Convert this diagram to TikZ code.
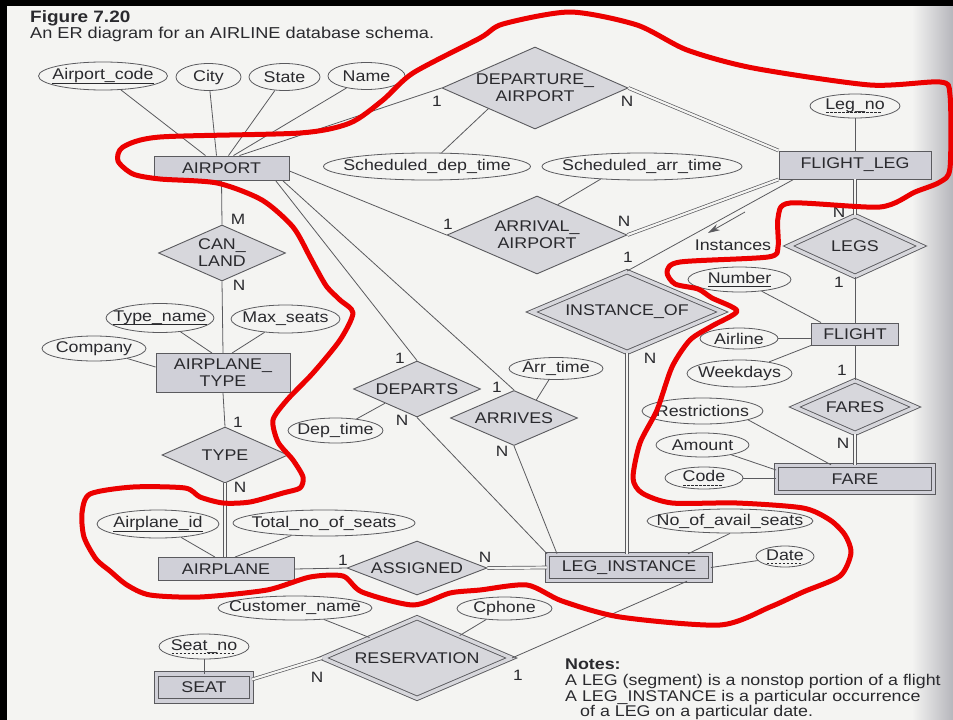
\documentclass[tikz,border=0pt]{standalone}
\usepackage{fontspec}
\setmainfont{Liberation Sans}[FakeStretch=1.15]
\usetikzlibrary{shapes.geometric,calc,arrows.meta}

\definecolor{paper}{RGB}{244,244,242}
\definecolor{ink}{RGB}{42,42,46}
\definecolor{ln}{RGB}{90,90,94}
\definecolor{efill}{RGB}{208,208,216}
\definecolor{rfill}{RGB}{215,215,220}
\definecolor{curl}{RGB}{182,182,188}
\definecolor{pen}{RGB}{236,0,0}

% key underlines: solid for keys, dashed for partial keys
\newcommand\solidkey[1]{\leavevmode\setbox0=\hbox{#1}\hbox{\rlap{\raisebox{-3.5pt}{\vrule width \wd0 height 0.7pt depth 0pt}}\box0}}
\newcommand\dashkey[1]{\leavevmode\setbox0=\hbox{#1}\hbox{\rlap{\raisebox{-3.5pt}{\hbox to \wd0{\leaders\hbox to 4pt{\hss\vrule width 2.5pt height 0.7pt depth 0pt\hss}\hfill}}}\box0}}

\begin{document}
\begin{tikzpicture}[x=1pt,y=-1pt,
  lbl/.style={font=\fontsize{15.5}{17}\selectfont, text=ink, align=center, inner sep=0pt},
  say/.style={label={[lbl]center:#1}},
  ent/.style={rectangle, draw=ln, line width=0.9pt, fill=efill, inner sep=0pt},
  weakent/.style={ent, double=efill, double distance=3.4pt},
  rel/.style={diamond, draw=ln, line width=0.9pt, fill=rfill, inner sep=0pt},
  idrel/.style={rel, double=rfill, double distance=3.4pt},
  attr/.style={ellipse, draw=ln, line width=0.8pt, fill=paper, inner sep=0pt},
  conn/.style={draw=ln, line width=0.8pt},
  total/.style={draw=ln, line width=0.7pt, double=paper, double distance=2.2pt},
  card/.style={font=\fontsize{15}{17}\selectfont, text=ink, inner sep=0pt},
  note/.style={font=\fontsize{15.5}{17}\selectfont, text=ink, inner sep=0pt, anchor=base west}]

\useasboundingbox (0,0) rectangle (953,720);
\clip (0,0) rectangle (953,720);

% page, curled right edge and dark frame
\fill[paper] (0,0) rectangle (953,720);
\shade[left color=paper, right color=curl] (912,0) rectangle (953,720);
\fill[black] (0,0) rectangle (953,5.5);
\fill[black] (0,0) rectangle (7,720);

% caption
\node[anchor=base west, inner sep=0pt, text=ink, font=\fontsize{16.5}{18}\selectfont\bfseries] (fig) at (30,22) {Figure 7.20};
\node[anchor=base west, inner sep=0pt, text=ink, font=\fontsize{15.8}{18}\selectfont] (figcap) at (30,38) {An ER diagram for an AIRLINE database schema.};

% ---------------- entities ----------------
\node[ent, minimum width=135, minimum height=24, say=AIRPORT] (airport) at (221.5,168) {};
\node[ent, minimum width=152, minimum height=28, say=FLIGHT\_LEG] (flightleg) at (855,165) {};
\node[ent, minimum width=134, minimum height=39, say={AIRPLANE\_\\TYPE}] (airplanetype) at (223,373) {};
\node[ent, minimum width=136, minimum height=23, say=AIRPLANE] (airplane) at (226,569) {};
\node[ent, minimum width=87, minimum height=22, say=FLIGHT] (flight) at (855,334) {};
\node[weakent, minimum width=95, minimum height=27, say=SEAT] (seat) at (204,687.5) {};
\node[weakent, minimum width=163, minimum height=26.5, say=LEG\_INSTANCE] (leginst) at (629,567.5) {};
\node[weakent, minimum width=157, minimum height=27.5, say=FARE] (fare) at (855,479) {};

% ---------------- relationships ----------------
\node[rel, minimum width=186, minimum height=82, say={DEPARTURE\_\\AIRPORT}] (depap) at (535,88) {};
\node[rel, minimum width=180, minimum height=78, say={ARRIVAL\_\\AIRPORT}] (arrap) at (537,235) {};
\node[rel, minimum width=127, minimum height=56, say={CAN\_\\LAND}] (canland) at (222,253) {};
\node[rel, minimum width=126, minimum height=56, say=TYPE] (type) at (225,455) {};
\node[rel, minimum width=127, minimum height=56, say=DEPARTS] (departs) at (417,389) {};
\node[rel, minimum width=127, minimum height=55, say=ARRIVES] (arrives) at (514,418) {};
\node[rel, minimum width=140, minimum height=54, say=ASSIGNED] (assigned) at (417,568) {};
\node[idrel, minimum width=133, minimum height=61, say=LEGS] (legs) at (855,246) {};
\node[idrel, minimum width=191, minimum height=81, say=INSTANCE\_OF] (instof) at (627,312) {};
\node[idrel, minimum width=121, minimum height=53, say=FARES] (fares) at (855,407) {};
\node[idrel, minimum width=189, minimum height=81, say=RESERVATION] (reserv) at (417,658) {};

% ---------------- attributes ----------------
\node[attr, minimum width=129, minimum height=28, say=\solidkey{Airport\_code}] (apcode) at (103,76) {};
\node[attr, minimum width=65, minimum height=27, say=City] (city) at (208.5,77) {};
\node[attr, minimum width=71, minimum height=27, say=State] (state) at (284.5,77) {};
\node[attr, minimum width=77, minimum height=27, say=Name] (name) at (366.5,76) {};
\node[attr, minimum width=207, minimum height=27, say=Scheduled\_dep\_time] (sdt) at (427,166.5) {};
\node[attr, minimum width=200, minimum height=27, say=Scheduled\_arr\_time] (sat) at (642,166.5) {};
\node[attr, minimum width=90, minimum height=24, say=\dashkey{Leg\_no}] (legno) at (855,106) {};
\node[attr, minimum width=108, minimum height=29, say=\solidkey{Type\_name}] (typename) at (160,318) {};
\node[attr, minimum width=109, minimum height=28, say=Max\_seats] (maxseats) at (285.5,319) {};
\node[attr, minimum width=104, minimum height=25, say=Company] (company) at (94,348.5) {};
\node[attr, minimum width=95, minimum height=25, say=Dep\_time] (deptime) at (335.5,430.5) {};
\node[attr, minimum width=94, minimum height=22, say=Arr\_time] (arrtime) at (556,368.5) {};
\node[attr, minimum width=103, minimum height=25, say=\solidkey{Number}] (number) at (739.5,279.5) {};
\node[attr, minimum width=78, minimum height=21, say=Airline] (airline) at (739,338.5) {};
\node[attr, minimum width=105, minimum height=27, say=Weekdays] (weekdays) at (739.5,373.5) {};
\node[attr, minimum width=121, minimum height=26, say=Restrictions] (restrictions) at (702.5,411) {};
\node[attr, minimum width=93, minimum height=24, say=Amount] (amount) at (702.5,445) {};
\node[attr, minimum width=78, minimum height=22, say=\dashkey{Code}] (code) at (704,478) {};
\node[attr, minimum width=122, minimum height=28, say=\solidkey{Airplane\_id}] (airplaneid) at (158,524) {};
\node[attr, minimum width=182, minimum height=26, say=Total\_no\_of\_seats] (totalseats) at (324,523) {};
\node[attr, minimum width=166, minimum height=24, say=No\_of\_avail\_seats] (availseats) at (730,521) {};
\node[attr, minimum width=58, minimum height=21, say=\dashkey{Date}] (date) at (785,556.5) {};
\node[attr, minimum width=154, minimum height=24, say=Customer\_name] (custname) at (295,608) {};
\node[attr, minimum width=95, minimum height=23, say=Cphone] (cphone) at (504.5,608.5) {};
\node[attr, minimum width=90, minimum height=25, say=\dashkey{Seat\_no}] (seatno) at (204,646.5) {};

% ---------------- attribute links ----------------
\draw[conn] (apcode) -- ([xshift=-16]airport.north);
\draw[conn] (city) -- ([xshift=-5]airport.north);
\draw[conn] (state) -- ([xshift=7]airport.north);
\draw[conn] (name) -- ([xshift=12]airport.north);
\draw[conn] (sdt) -- ($(depap.west)!0.5!(depap.south)$);
\draw[conn] (sat.197) -- ($(arrap.north)!0.23!(arrap.east)$);
\draw[conn] (legno) -- (legno |- flightleg.north);
\draw[conn] (typename) -- ([xshift=-11]airplanetype.north);
\draw[conn] (maxseats) -- ([xshift=9]airplanetype.north);
\draw[conn] (company) -- ([yshift=6]airplanetype.west);
\draw[conn] (deptime) -- ($(departs.west)!0.5!(departs.south)$);
\draw[conn] (arrtime) -- ($(arrives.north)!0.35!(arrives.east)$);
\draw[conn] (number) -- ([xshift=10]flight.north west);
\draw[conn] (airline.east) -- (airline.east -| flight.west);
\draw[conn] (weekdays) -- (flight.south west);
\draw[conn] (restrictions.-11) -- ([xshift=55]fare.north west);
\draw[conn] (amount) -- ([yshift=9]fare.west);
\draw[conn] (code.east) -- (code.east -| fare.west);
\draw[conn] (airplaneid) -- ([xshift=-11]airplane.north);
\draw[conn] (totalseats) -- ([xshift=9]airplane.north);
\draw[conn] (availseats.south) -- ([xshift=59]leginst.north);
\draw[conn] (date) -- (leginst.east);
\draw[conn] (custname) -- ($(reserv.west)!0.5!(reserv.north)$);
\draw[conn] (cphone) -- ($(reserv.north)!0.45!(reserv.east)$);
\draw[conn] (seatno.south) -- (seatno.south |- seat.north);

% ---------------- relationship links ----------------
\draw[conn] (depap.west) -- ([xshift=18]airport.north);
\draw[total] (depap.east) -- (flightleg.north west);
\draw[conn] (arrap.west) -- ([yshift=-3]airport.east);
\draw[total] (arrap.east) -- (flightleg.south west);
\draw[conn] (airport.south) -- (canland.north);
\draw[conn] (canland.south) -- (airplanetype.north);
\draw[conn] ([xshift=54]airport.south) -- (departs.north);
\draw[conn] ([xshift=61]airport.south) -- (arrives.north);
\draw[conn] (departs.south) -- (leginst.north west);
\draw[conn] (arrives.south) -- ([xshift=-72]leginst.north);
\draw[conn] (airplanetype.south) -- (type.north);
\draw[total] (type.south) -- (type.south |- airplane.north);
\draw[conn] (airplane.east) -- (assigned.west);
\draw[total] (assigned.east) -- (leginst.west);
\draw[total] (instof.south) -- (instof.south |- leginst.north);
\draw[conn] (instof.north) -- ([xshift=15]flightleg.south west);
\draw[total] (legs.north) -- (legs.north |- flightleg.south);
\draw[conn] (legs.south) -- (legs.south |- flight.north);
\draw[conn] (flight.south) -- (fares.north);
\draw[total] (fares.south) -- (fares.south |- fare.north);
\draw[conn] ([xshift=58]leginst.south) -- (reserv.east);
\draw[total] ([yshift=8]seat.east) -- (reserv.west);

% the Instances direction marker
\coordinate (insA) at (745,212);
\coordinate (insB) at (708,233);
\draw[conn, -{Stealth[length=12pt,width=7pt]}] (insA) -- (insB);
\node[lbl] (instances) at (733,245) {Instances};

% ---------------- cardinalities ----------------
\node[card] (k1) at (437,101) {1};
\node[card] (k2) at (627,101) {N};
\node[card] (k3) at (448,224) {1};
\node[card] (k4) at (624,221) {N};
\node[card] (k5) at (238,219) {M};
\node[card] (k6) at (239,285) {N};
\node[card] (k7) at (238,422) {1};
\node[card] (k8) at (240,487) {N};
\node[card] (k9) at (400,358) {1};
\node[card] (k10) at (402,420) {N};
\node[card] (k11) at (497,387) {1};
\node[card] (k12) at (502,451) {N};
\node[card] (k13) at (343,560) {1};
\node[card] (k14) at (485,557) {N};
\node[card] (k15) at (650,358) {N};
\node[card] (k16) at (628,257) {1};
\node[card] (k17) at (839,212) {N};
\node[card] (k18) at (839,282) {1};
\node[card] (k19) at (842,370) {1};
\node[card] (k20) at (843,443) {N};
\node[card] (k21) at (317,677) {N};
\node[card] (k22) at (518,675) {1};

% ---------------- notes ----------------
\node[note] (nhead) at (565,669) {\bfseries Notes:};
\node[note] (n1) at (565,685) {A LEG (segment) is a nonstop portion of a flight};
\node[note] (n2) at (565,701) {A LEG\_INSTANCE is a particular occurrence};
\node[note] (n3) at (580,716) {of a LEG on a particular date.};

% ---------------- red marker loop ----------------
\draw[pen, line width=5pt, line cap=round, line join=round]
  plot[smooth cycle, tension=0.45] coordinates {
  (480,38) (503,24) (570,12) (637,25) (687,50) (753,68) (870,85) (940,82)
  (950,95) (950,168) (940,182) (915,192) (880,207) (790,203) (778,218)
  (778,247) (768,257) (680,262) (667,272) (675,284) (698,289) (712,298)
  (737,311) (712,326) (690,340) (672,367) (657,410) (640,443) (633,478)
  (642,493) (672,503) (737,503) (803,508) (830,520) (845,535) (851,553)
  (840,576) (803,592) (770,607) (720,625) (620,617) (562,601) (527,585)
  (480,590) (450,593) (413,605) (362,592) (343,576) (310,577) (267,590)
  (200,597) (150,595) (127,585) (110,571) (96,559) (84,537) (82,513)
  (90,494) (133,487) (185,488) (200,497) (223,503) (250,502) (283,493)
  (300,488) (303,477) (293,460) (278,442) (273,420) (287,400) (313,373)
  (340,340) (353,313) (340,300) (327,287) (317,270) (310,257) (293,227)
  (262,200) (217,183) (160,179) (133,174) (118,161) (123,147) (160,137)
  (300,133) (350,123) (383,100) (413,73)};
\end{tikzpicture}
\end{document}
